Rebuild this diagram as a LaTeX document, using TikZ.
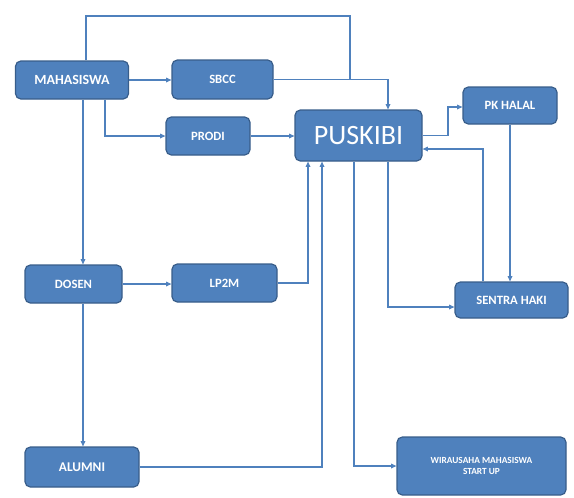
\documentclass[tikz,border=0pt]{standalone}
\usepackage{fontspec}
\setmainfont{Carlito}
\usetikzlibrary{arrows.meta}
\definecolor{boxfill}{RGB}{79,129,189}
\definecolor{boxline}{RGB}{56,93,138}
\definecolor{linkcol}{RGB}{79,129,189}
\begin{document}
\begin{tikzpicture}[x=0.75pt,y=0.75pt,yscale=-1,xscale=1,
  box/.style={draw=boxline,fill=boxfill,rounded corners=4pt,line width=0.9pt,text=white,align=center,inner sep=0pt,font=\bfseries\fontsize{9.5}{11}\selectfont},
  link/.style={draw=linkcol,line width=0.8pt},
  arr/.style={link,-{Triangle[length=4pt,width=3.5pt]}}]
\useasboundingbox (0,0) rectangle (574,497);

% Nodes
\node [box,minimum width=84.75pt,minimum height=28.5pt,font=\bfseries\fontsize{10.5}{12}\selectfont] (mhs) at (72,80) {MAHASISWA};
\node [box,minimum width=75.75pt,minimum height=29.25pt] (sbcc) at (222.5,79.5) {SBCC};
\node [box,minimum width=63pt,minimum height=28.5pt] (prodi) at (208,136) {PRODI};
\node [box,minimum width=95.25pt,minimum height=38.25pt,font=\fontsize{21}{24}\selectfont] (puskibi) at (358.5,135.5) {PUSKIBI};
\node [box,minimum width=70.5pt,minimum height=27.75pt] (pkhalal) at (510,105.5) {PK HALAL};
\node [box,minimum width=84.75pt,minimum height=27pt] (sentra) at (511.5,300) {SENTRA HAKI};
\node [box,minimum width=72.75pt,minimum height=28.5pt] (dosen) at (73.5,284) {DOSEN};
\node [box,minimum width=78.75pt,minimum height=28.5pt] (lp2m) at (224.5,283) {LP2M};
\node [box,minimum width=85.5pt,minimum height=30pt,font=\bfseries\fontsize{10}{12}\selectfont] (alumni) at (82,467) {ALUMNI};
\node [box,minimum width=126.75pt,minimum height=43.5pt,font=\bfseries\fontsize{7}{8.5}\selectfont] (wira) at (481.5,466) {WIRAUSAHA MAHASISWA\\START UP};

% Connectors
\draw [arr] (mhs.east) -- (sbcc.west |- mhs.east);
\draw [arr] (sbcc.east) -| (puskibi.north -| 388,0);
\draw [link] (mhs.north -| 86,0) |- (350,16) -- (sbcc.east -| 350,0);
\draw [arr] (mhs.south -| 105,0) |- (prodi.west);
\draw [arr] (prodi.east) -- (prodi.east -| puskibi.west);
\draw [arr] (mhs.south -| 83,0) -- (dosen.north -| 83,0);
\draw [arr] (dosen.east) -- (lp2m.west |- dosen.east);
\draw [arr] (lp2m.east) -| (puskibi.south -| 308,0);
\draw [arr] (alumni.east) -| (puskibi.south -| 322,0);
\draw [arr] (dosen.south -| 83,0) -- (alumni.north -| 83,0);
\draw [arr] (puskibi.south -| 354,0) |- (wira.west);
\draw [arr] (puskibi.south -| 388,0) |- (sentra.west |- 0,307);
\draw [arr] (puskibi.east) -| (448,107) -- (pkhalal.west |- 0,107);
\draw [arr] (pkhalal.south) -- (pkhalal.south |- sentra.north);
\draw [arr] (sentra.north -| 483,0) |- (puskibi.east |- 0,149);

\end{tikzpicture}
\end{document}
